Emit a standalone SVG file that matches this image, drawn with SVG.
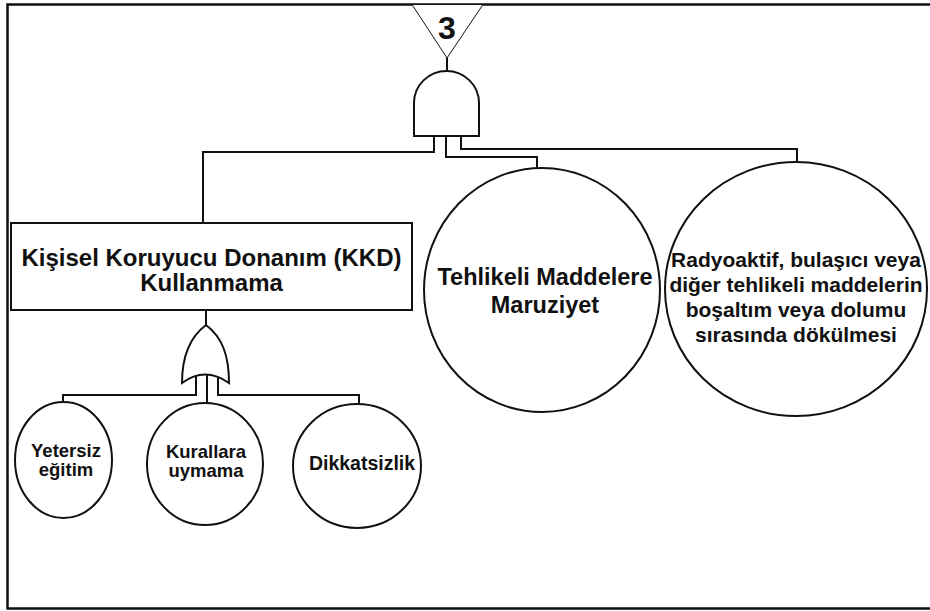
<svg xmlns="http://www.w3.org/2000/svg" width="930" height="611" viewBox="0 0 930 611">
<style>
.ln{fill:none;stroke:#111;stroke-width:2}
.sh{fill:#fff;stroke:#111;stroke-width:2}
.t{font-family:"Liberation Sans",Arial,sans-serif;font-weight:bold;fill:#111;text-anchor:middle}
</style>
<rect x="0" y="0" width="930" height="611" fill="#fff"/>
<rect x="7.5" y="4.5" width="930" height="604" fill="none" stroke="#111" stroke-width="2.5"/>
<g id="connectors">
<path class="ln" d="M447,58 L447,72"/>
<path class="ln" d="M434,136 L434,152 L203,152 L203,223"/>
<path class="ln" d="M446,136 L446,157 L537,157 L537,168"/>
<path class="ln" d="M461,136 L461,149 L797,149 L797,162"/>
<path class="ln" d="M206,310 L206,326"/>
<path class="ln" d="M196,374 L196,395 L63,395 L63,402"/>
<path class="ln" d="M207,372 L207,403"/>
<path class="ln" d="M218,374 L218,395 L359,395 L359,404"/>
</g>
<g id="transfer3">
<path d="M412,4.5 L483,4.5 L447,58 Z" fill="#fff" stroke="#111" stroke-width="1"/>
<text class="t" x="447" y="39" font-size="32">3</text>
</g>
<g id="and-gate">
<path class="sh" d="M414,136 L414,103 A32.5,32 0 0 1 479,103 L479,136 Z"/>
</g>
<g id="kkd">
<rect class="sh" x="11" y="223" width="401" height="87"/>
<text class="t" x="211.5" y="266" font-size="24">Kişisel Koruyucu Donanım (KKD)</text>
<text class="t" x="211.5" y="291" font-size="24">Kullanmama</text>
</g>
<g id="or-gate">
<path class="sh" d="M206,325 C190,337 182,355 182,383 Q205,366 229,383 C229,355 222,337 206,325 Z"/>
</g>
<g id="yetersiz">
<ellipse class="sh" cx="63.5" cy="460" rx="48.5" ry="58"/>
<text class="t" x="66" y="457" font-size="18.5">Yetersiz</text>
<text class="t" x="66" y="476" font-size="18.5">eğitim</text>
</g>
<g id="kurallara">
<ellipse class="sh" cx="205" cy="464" rx="58" ry="61"/>
<text class="t" x="206" y="458" font-size="18.5">Kurallara</text>
<text class="t" x="206" y="477" font-size="18.5">uymama</text>
</g>
<g id="dikkatsizlik">
<ellipse class="sh" cx="357" cy="466" rx="64" ry="62"/>
<text class="t" x="362" y="470" font-size="19.5">Dikkatsizlik</text>
</g>
<g id="tehlikeli">
<ellipse class="sh" cx="542" cy="290" rx="118" ry="122"/>
<text class="t" x="545" y="285" font-size="23.5">Tehlikeli Maddelere</text>
<text class="t" x="545" y="313" font-size="23.5">Maruziyet</text>
</g>
<g id="radyoaktif">
<ellipse class="sh" cx="796" cy="289" rx="131" ry="127"/>
<text class="t" x="796" y="267" font-size="21">Radyoaktif, bulaşıcı veya</text>
<text class="t" x="796" y="292" font-size="21">diğer tehlikeli maddelerin</text>
<text class="t" x="796" y="317" font-size="21">boşaltım veya dolumu</text>
<text class="t" x="796" y="342" font-size="21">sırasında dökülmesi</text>
</g>
</svg>
